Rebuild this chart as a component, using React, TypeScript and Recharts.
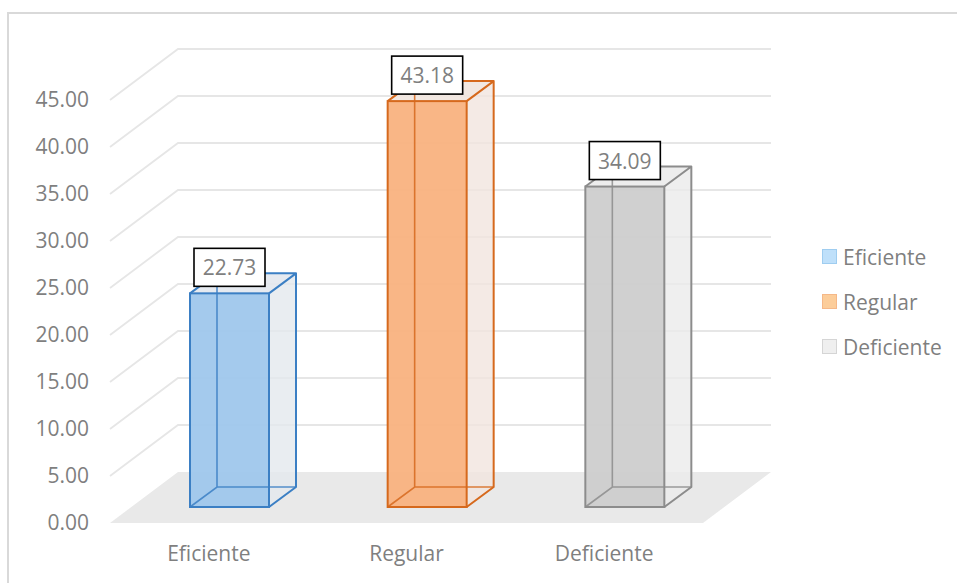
import React from "react";
import { BarChart, Bar, XAxis, YAxis, CartesianGrid, Cell, LabelList, Legend } from "recharts";

const categories = ["Eficiente", "Regular", "Deficiente"];
const percentages = [22.73, 43.18, 34.09];
const yTicks = [0, 5, 10, 15, 20, 25, 30, 35, 40, 45];

// front face, edge and side colours per category
const frontFills = ["#9fc7ec", "#f9b27f", "#cdcdcd"];
const edgeColors = ["#3b7fc4", "#d6691d", "#8c8c8c"];
const sideFills = ["#e3e8ee", "#f1e5df", "#ebebeb"];
const legendFills = ["#bfe0fa", "#fccd9a", "#efefef"];
const legendEdges = ["#9fcdf0", "#f5b888", "#d5d5d5"];

const data = categories.map((name, i) => ({ name, value: percentages[i] }));

const FONT = "'Open Sans', sans-serif";
const TEXT = "#7f7f7f";
const FONT_SIZE = 21;

// oblique projection: floor depth, bar set-back, bar depth
const FLOOR_DX = 68;
const FLOOR_DY = -51;
const BAR_OFF_X = 21;
const BAR_OFF_Y = -16;
const BAR_DX = 27;
const BAR_DY = -20;

const gridLine = (props: any) => {
  const { x1, y1, x2, index } = props;
  const bottom = (props.y ?? 0) + (props.height ?? 0);
  if (Math.abs(y1 - bottom) < 1) {
    const pts = [
      [x1, y1],
      [x2, y1],
      [x2 + FLOOR_DX, y1 + FLOOR_DY],
      [x1 + FLOOR_DX, y1 + FLOOR_DY],
    ]
      .map((p) => p.join(","))
      .join(" ");
    return <polygon key={`floor-${index}`} points={pts} fill="#e9e9e9" stroke="none" />;
  }
  const d = `M${x1},${y1} L${x1 + FLOOR_DX},${y1 + FLOOR_DY} L${x2 + FLOOR_DX},${y1 + FLOOR_DY}`;
  return <path key={`grid-${index}`} d={d} fill="none" stroke="#e6e6e6" strokeWidth={1.8} />;
};

const Box3D = (props: any) => {
  const { x, y, width, height, index } = props;
  const left = x + BAR_OFF_X;
  const right = left + width;
  const top = y + BAR_OFF_Y;
  const bottom = top + height;
  const edge = edgeColors[index];
  const dx = BAR_DX;
  const dy = BAR_DY;
  const poly = (pts: number[][]) => pts.map((p) => p.join(",")).join(" ");
  return (
    <g>
      {/* right side and top */}
      <polygon
        points={poly([[right, top], [right + dx, top + dy], [right + dx, bottom + dy], [right, bottom]])}
        fill={sideFills[index]}
        fillOpacity={0.8}
      />
      <polygon
        points={poly([[left, top], [left + dx, top + dy], [right + dx, top + dy], [right, top]])}
        fill={sideFills[index]}
        fillOpacity={0.9}
      />
      <rect x={left} y={top} width={width} height={height} fill={frontFills[index]} fillOpacity={0.95} />
      {/* hidden edges seen through the faces */}
      <path
        d={`M${left},${bottom} L${left + dx},${bottom + dy} L${right + dx},${bottom + dy} M${left + dx},${bottom + dy} L${left + dx},${top + dy}`}
        fill="none"
        stroke={edge}
        strokeWidth={1.6}
        strokeOpacity={0.85}
      />
      {/* visible edges */}
      <path
        d={`M${left},${top} L${left + dx},${top + dy} L${right + dx},${top + dy} L${right},${top} M${right + dx},${top + dy} L${right + dx},${bottom + dy} L${right},${bottom}`}
        fill="none"
        stroke={edge}
        strokeWidth={2}
        strokeLinejoin="round"
      />
      <rect x={left} y={top} width={width} height={height} fill="none" stroke={edge} strokeWidth={2} />
    </g>
  );
};

const ValueBox = (props: any) => {
  const vb = props.viewBox ?? props;
  const { x, y, width } = vb;
  const cx = x + width / 2 + BAR_OFF_X;
  const boxBottom = y + BAR_OFF_Y - 7;
  const w = 71;
  const h = 38;
  return (
    <g>
      <rect x={cx - w / 2} y={boxBottom - h} width={w} height={h} fill="#fff" stroke="#000" strokeWidth={1.6} />
      <text
        x={cx}
        y={boxBottom - h / 2}
        textAnchor="middle"
        dominantBaseline="central"
        fontFamily={FONT}
        fontSize={FONT_SIZE}
        fill={TEXT}
      >
        {Number(props.value).toFixed(2)}
      </text>
    </g>
  );
};

const renderLegend = () => (
  <div style={{ fontFamily: FONT, fontSize: FONT_SIZE, color: TEXT }}>
    {categories.map((c, i) => (
      <div key={c} style={{ display: "flex", alignItems: "center", height: 45 }}>
        <span
          style={{
            width: 13,
            height: 13,
            background: legendFills[i],
            border: `1px solid ${legendEdges[i]}`,
            marginRight: 6,
          }}
        />
        <span>{c}</span>
      </div>
    ))}
  </div>
);

export default function App() {
  return (
    <div
      style={{
        position: "absolute",
        left: 0,
        top: 0,
        width: 957,
        height: 583,
        overflow: "hidden",
        background: "#fff",
      }}
    >
      <div
        style={{
          position: "absolute",
          left: 7,
          top: 12,
          width: 1000,
          height: 700,
          borderTop: "2px solid #d9d9d9",
          borderLeft: "2px solid #d9d9d9",
        }}
      />
      <BarChart
        width={957}
        height={583}
        data={data}
        margin={{ top: 100, right: 254, bottom: 20, left: 10 }}
        barSize={79}
      >
        <CartesianGrid vertical={false} horizontal={gridLine} />
        <XAxis
          dataKey="name"
          axisLine={false}
          tickLine={false}
          tickSize={0}
          tickMargin={23}
          height={40}
          tick={{ fontSize: FONT_SIZE, fontFamily: FONT, fill: TEXT }}
        />
        <YAxis
          domain={[0, 45]}
          ticks={yTicks}
          axisLine={false}
          tickLine={false}
          tickSize={0}
          tickMargin={21}
          width={100}
          tickFormatter={(v: number) => v.toFixed(2)}
          tick={{ fontSize: FONT_SIZE, fontFamily: FONT, fill: TEXT }}
        />
        <Legend
          layout="vertical"
          align="center"
          verticalAlign="middle"
          content={renderLegend}
          wrapperStyle={{ left: 822, top: 234, width: 135 }}
        />
        <Bar dataKey="value" shape={Box3D} isAnimationActive={false}>
          {data.map((d, i) => (
            <Cell key={d.name} fill={frontFills[i]} />
          ))}
          <LabelList dataKey="value" content={ValueBox} />
        </Bar>
      </BarChart>
    </div>
  );
}
